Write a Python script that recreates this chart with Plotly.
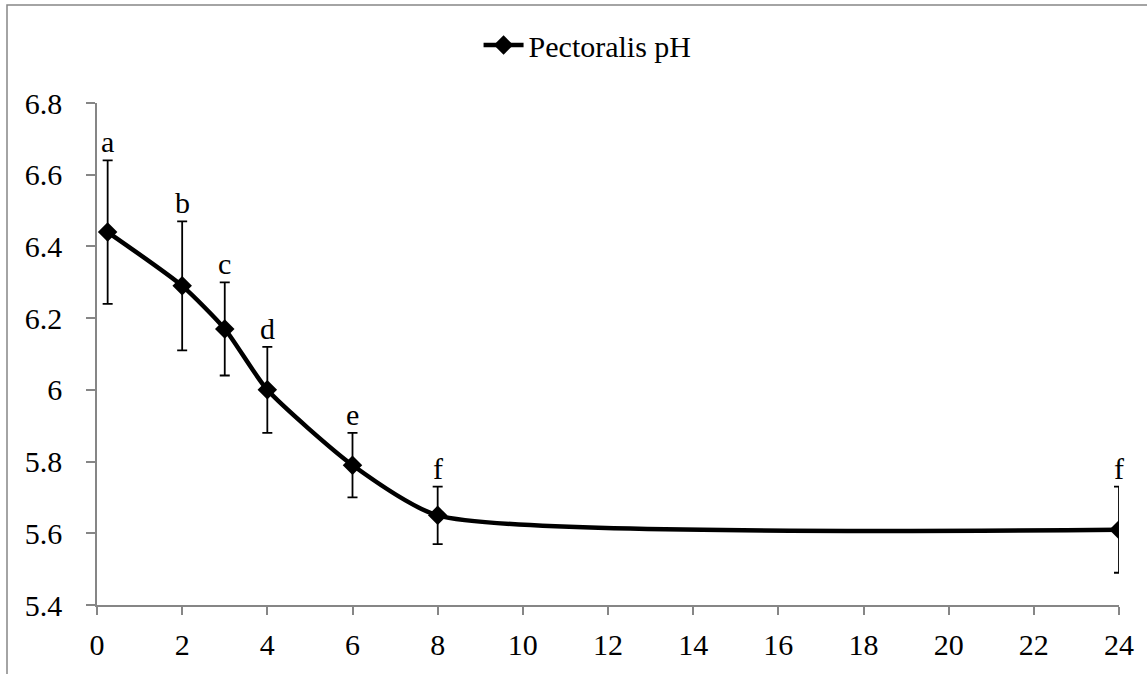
import plotly.graph_objects as go

hours = [0.25, 2, 3, 4, 6, 8, 24]
ph = [6.44, 6.29, 6.17, 6.00, 5.79, 5.65, 5.61]
err = [0.20, 0.18, 0.13, 0.12, 0.09, 0.08, 0.12]
letters = ["a", "b", "c", "d", "e", "f", "f"]
ytick_vals = [5.4, 5.6, 5.8, 6.0, 6.2, 6.4, 6.6, 6.8]
ytick_text = ["5.4", "5.6", "5.8", "6", "6.2", "6.4", "6.6", "6.8"]
xtick_vals = list(range(0, 25, 2))

FONT = "Liberation Serif"
FS = 30
W, H = 1147, 674
ML, MR, MT, MB = 97, 28, 103, 69
pw, ph_px = W - ML - MR, H - MT - MB

fig = go.Figure()
fig.add_trace(go.Scatter(
    x=hours, y=ph, mode="lines+markers", name="Pectoralis pH",
    line=dict(color="black", width=4.5, shape="spline", smoothing=0.6),
    marker=dict(symbol="diamond", size=15, color="black"),
    error_y=dict(type="data", array=err, visible=True, color="black",
                 thickness=1.8, width=5),
))

for xv, yv, ev, lt in zip(hours, ph, err, letters):
    fig.add_annotation(x=xv, y=yv + ev, text=lt, showarrow=False,
                       yanchor="bottom", yshift=0,
                       font=dict(family=FONT, size=FS, color="black"))

def px_x(p):
    return (p - ML) / pw

def px_y(p):
    return 1 - (p - MT) / ph_px

fig.add_shape(type="rect", xref="paper", yref="paper",
              x0=px_x(7), x1=px_x(1150), y0=px_y(690), y1=px_y(5),
              line=dict(color="#868686", width=1.5), fillcolor="rgba(0,0,0,0)")

axis_common = dict(showgrid=False, zeroline=False, showline=True,
                   linecolor="#868686", linewidth=1.5, ticks="outside",
                   tickcolor="#868686", tickwidth=1.5,
                   tickfont=dict(family=FONT, size=FS, color="black"))

fig.update_xaxes(range=[0, 24], tickvals=xtick_vals, ticklen=8,
                 ticklabelstandoff=4, **axis_common)
fig.update_yaxes(range=[5.4, 6.8], tickvals=ytick_vals, ticktext=ytick_text,
                 ticklen=9, ticklabelstandoff=18, **axis_common)

fig.update_layout(
    width=W, height=H,
    margin=dict(l=ML, r=MR, t=MT, b=MB, autoexpand=False),
    paper_bgcolor="white", plot_bgcolor="white",
    font=dict(family=FONT, size=FS, color="black"),
    showlegend=True,
    legend=dict(orientation="h", x=0.48, xanchor="center",
                y=px_y(45), yanchor="middle",
                font=dict(family=FONT, size=FS, color="black"),
                bgcolor="rgba(0,0,0,0)", itemwidth=40),
)

fig.write_html("out.html")
